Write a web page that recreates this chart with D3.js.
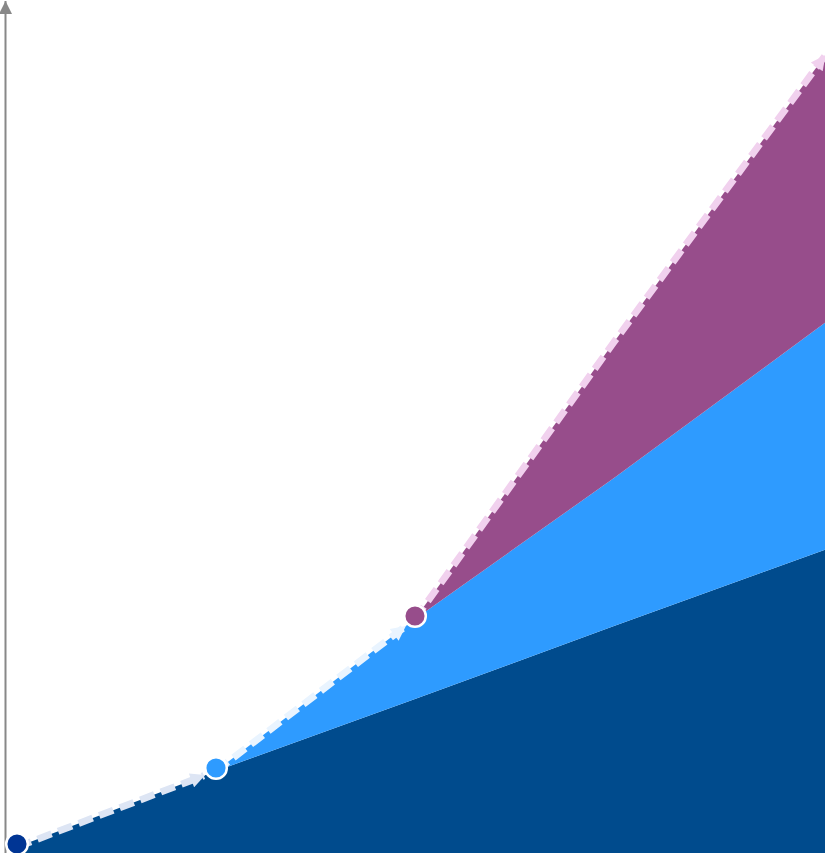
<!DOCTYPE html>
<html>
<head>
<meta charset="utf-8">
<script src="https://cdn.jsdelivr.net/npm/d3@7"></script>
<style>
  html, body { margin: 0; padding: 0; background: #fff; overflow: hidden; }
  svg { display: block; }
</style>
</head>
<body>
<svg id="chart" width="825" height="853"></svg>
<script>
// periods along the x axis (last one runs past the right edge)
const periods = [0, 1, 2, 3, 4.1];
// stacked layers, each one starts at a later period
const baseValues = [0, 76, 148, 221, 300];
const growthValues = [0, 0, 80, 148, 230];
const boostValues = [0, 0, 0, 136, 272];
const layerKeys = ['base', 'growth', 'boost'];
const layerStarts = [0, 1, 2];

const fills = ['#004b8d', '#2e9bff', '#974d8b'];
const dotFills = ['#003594', '#2e9bff', '#974d8b'];
const dashColors = ['#dde5f4', '#e9f4ff', '#f1d1ee'];

const width = 825, height = 853;

const rows = periods.map((p, i) => ({
  period: p,
  base: baseValues[i],
  growth: growthValues[i],
  boost: boostValues[i]
}));

const x = d3.scaleLinear().domain([0, 4]).range([17, 813]);
const y = d3.scaleLinear().domain([0, 800]).range([847, 47]);

const svg = d3.select('#chart');

const defs = svg.append('defs');
// arrow heads
dashColors.forEach((c, i) => {
  defs.append('marker')
    .attr('id', 'arrow' + i)
    .attr('viewBox', '0 0 10 10')
    .attr('refX', 9)
    .attr('refY', 5)
    .attr('markerWidth', 2.9)
    .attr('markerHeight', 2.1)
    .attr('markerUnits', 'strokeWidth')
    .attr('orient', 'auto')
    .append('path')
    .attr('d', 'M0,0 L10,5 L0,10 Z')
    .style('fill', c);
});
defs.append('marker')
  .attr('id', 'axisArrow')
  .attr('viewBox', '0 0 10 10')
  .attr('refX', 10)
  .attr('refY', 5)
  .attr('markerWidth', 8)
  .attr('markerHeight', 6.5)
  .attr('markerUnits', 'strokeWidth')
  .attr('orient', 'auto')
  .append('path')
  .attr('d', 'M0,0 L10,5 L0,10 Z')
  .style('fill', '#888');

const stack = d3.stack().keys(layerKeys);
const series = stack(rows);

const area = d3.area()
  .x(d => x(d.data.period))
  .y0(d => d[0] === 0 ? height : y(d[0]))
  .y1(d => y(d[1]));

svg.selectAll('path.layer')
  .data(series)
  .enter()
  .append('path')
  .attr('class', 'layer')
  .attr('d', (s, i) => area(s.filter((d, j) => j >= layerStarts[i])))
  .style('fill', (s, i) => fills[i]);

// y axis with arrow at the top
svg.append('line')
  .attr('x1', 5.5).attr('y1', height)
  .attr('x2', 5.5).attr('y2', 1)
  .attr('marker-end', 'url(#axisArrow)')
  .style('stroke', '#888')
  .style('stroke-width', 2);

// dashed arrows along the top of each layer, up to the next dot
const topPoints = series.map((s, i) => s.map(d => [x(d.data.period), y(d[1])]));
const line = d3.line();

series.forEach((s, i) => {
  const from = layerStarts[i];
  const to = i < layerStarts.length - 1 ? layerStarts[i + 1] : periods.length - 1;
  const pts = topPoints[i].slice(from, to + 1);
  // stop short of the next dot
  const a = pts[pts.length - 2], b = pts[pts.length - 1];
  const len = Math.hypot(b[0] - a[0], b[1] - a[1]);
  const cut = i < layerStarts.length - 1 ? 13 : 14;
  pts[pts.length - 1] = [b[0] - (b[0] - a[0]) * cut / len, b[1] - (b[1] - a[1]) * cut / len];
  svg.append('path')
    .attr('d', line(pts))
    .attr('marker-end', 'url(#arrow' + i + ')')
    .style('fill', 'none')
    .style('stroke', dashColors[i])
    .style('stroke-width', 7)
    .style('stroke-dasharray', '15,7');
});

// start dots
svg.selectAll('circle')
  .data(layerStarts)
  .enter()
  .append('circle')
  .attr('cx', (s, i) => topPoints[i][s][0])
  .attr('cy', (s, i) => topPoints[i][s][1] - 3)
  .attr('r', 10.8)
  .style('fill', (s, i) => dotFills[i])
  .style('stroke', '#fff')
  .style('stroke-width', 2.5);
</script>
</body>
</html>
